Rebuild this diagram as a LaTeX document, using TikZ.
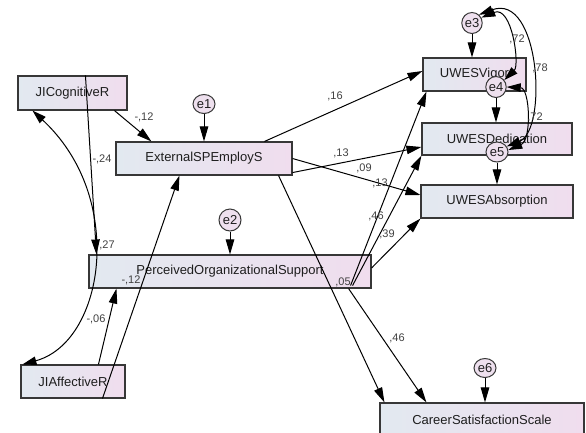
\documentclass[tikz,border=0pt]{standalone}
\usepackage{fontspec}
\setmainfont{Liberation Sans}
\usetikzlibrary{arrows.meta,shapes.geometric}
\definecolor{boxleft}{RGB}{226,233,240}
\definecolor{boxright}{RGB}{240,221,238}
\definecolor{errfill}{RGB}{238,224,238}
\definecolor{edgegray}{RGB}{55,55,55}
\definecolor{txt}{RGB}{30,30,30}
\definecolor{lbl}{RGB}{65,65,65}
\begin{document}
\begin{tikzpicture}[x=1pt,y=-1pt,
  varbox/.style={draw=edgegray, line width=1.1pt, left color=boxleft, right color=boxright, inner sep=0pt, font=\fontsize{13}{15}\selectfont, text=txt},
  errc/.style={ellipse, draw=edgegray, line width=1pt, fill=errfill, minimum width=22pt, minimum height=21pt, inner sep=0pt, font=\fontsize{13}{15}\selectfont, text=txt},
  regr/.style={draw=black, line width=1pt, -{Triangle[length=15pt,width=8.5pt]}},
  covar/.style={draw=black, line width=1pt, {Triangle[length=14pt,width=8.5pt]}-{Triangle[length=14pt,width=8.5pt]}},
  lab/.style={font=\fontsize{11}{13}\selectfont, text=lbl, inner sep=0pt}]
\fill[white] (0,0) rectangle (586,432);
\useasboundingbox (0,0) rectangle (586,432);

% observed variables
\node[varbox, minimum width=109pt, minimum height=34pt] (JIC) at (72.5,93) {JICognitiveR};
\node[varbox, minimum width=176pt, minimum height=33pt] (ESP) at (204,158.5) {ExternalSPEmployS};
\node[varbox, minimum width=282pt, minimum height=33pt] (POS) at (230,271.5) {PerceivedOrganizationalSupport};
\node[varbox, minimum width=104pt, minimum height=33pt] (JIA) at (73,381.5) {JIAffectiveR};
\node[varbox, minimum width=103pt, minimum height=33pt] (VIG) at (474.5,74.5) {UWESVigor};
\node[varbox, minimum width=150pt, minimum height=32pt] (DED) at (497,139) {UWESDedication};
\node[varbox, minimum width=152pt, minimum height=33pt] (ABS) at (497,201.5) {UWESAbsorption};
\node[varbox, minimum width=204pt, minimum height=33pt] (CSS) at (482,419.5) {CareerSatisfactionScale};

% error terms
\node[errc, minimum height=19pt] (e1) at (204,104) {e1};
\node[errc, minimum height=22pt] (e2) at (230,220) {e2};
\node[errc, minimum width=20pt] (e3) at (472,23) {e3};
\node[errc, minimum width=20pt] (e4) at (496,87) {e4};
\node[errc, minimum height=20pt] (e5) at (497,152) {e5};
\node[errc, minimum height=19pt] (e6) at (485,368) {e6};

\draw[regr] (e1.south) -- (e1.south |- ESP.north);
\draw[regr] (e2.south) -- (e2.south |- POS.north);
\draw[regr] (e3.south) -- (e3.south |- VIG.north);
\draw[regr] (e4.south) -- (e4.south |- DED.north);
\draw[regr] (e5.south) -- (e5.south |- ABS.north);
\draw[regr] (e6.south) -- (e6.south |- CSS.north);

% regressions
\draw[regr] ([xshift=97pt]JIC.south west) -- ([xshift=36pt]ESP.north west);
\draw[regr] ([xshift=68pt]JIC.north west) -- ([xshift=8pt]POS.north west);
\draw[regr] ([xshift=78pt]JIA.north west) -- ([xshift=28pt]POS.south west);
\draw[regr] ([xshift=82pt]JIA.south west) -- ([xshift=64pt]ESP.south west);
\draw[regr] ([xshift=149pt]ESP.north west) -- ([yshift=3.5pt]VIG.west);
\draw[regr] ([yshift=3pt]ESP.south east) -- ([yshift=-8pt]DED.west);
\draw[regr] (ESP.east) -- ([yshift=6.5pt]ABS.west);
\draw[regr] ([xshift=-14pt]ESP.south east) -- ([xshift=5pt]CSS.north west);
\draw[regr] ([xshift=-21pt,yshift=3pt]POS.south east) -- ([xshift=4pt]VIG.south west);
\draw[regr] ([xshift=-19pt,yshift=3pt]POS.south east) -- (DED.south west);
\draw[regr] ([yshift=3.5pt]POS.east) -- (ABS.south west);
\draw[regr] ([xshift=-23pt]POS.south east) -- ([xshift=47pt]CSS.north west);

% covariances
\coordinate (cmid) at (97,250);
\draw[covar] ([xshift=15pt]JIC.south west) .. controls (75,150) and (97,195) .. (cmid)
  .. controls (97,300) and (75,350) .. ([xshift=2pt]JIA.north west);
\draw[covar] (e3.30) .. controls (512,5) and (520,65) .. (e4.40);
\draw[covar] (e3.50) .. controls (540,-8) and (548,130) .. (e5.30);
\draw[covar] (e4.0) .. controls (530,88) and (532,140) .. (e5.10);

% coefficients
\node[lab] (l1) at (144,117) {-,12};
\node[lab] (l2) at (102,159) {-,24};
\node[lab] (l3) at (107,245) {,27};
\node[lab] (l4) at (96,319) {-,06};
\node[lab] (l5) at (131,280) {-,12};
\node[lab] (l6) at (335,96) {,16};
\node[lab] (l7) at (341,153) {,13};
\node[lab] (l8) at (364,168) {,09};
\node[lab] (l9) at (380,183) {,13};
\node[lab] (l10) at (376,216) {,46};
\node[lab] (l11) at (387,234) {,39};
\node[lab] (l12) at (343,282) {,05};
\node[lab] (l13) at (397,338) {,46};
\node[lab] (l14) at (517,39) {,72};
\node[lab] (l15) at (540,68) {,78};
\node[lab] (l16) at (535,117) {,72};
\end{tikzpicture}
\end{document}
